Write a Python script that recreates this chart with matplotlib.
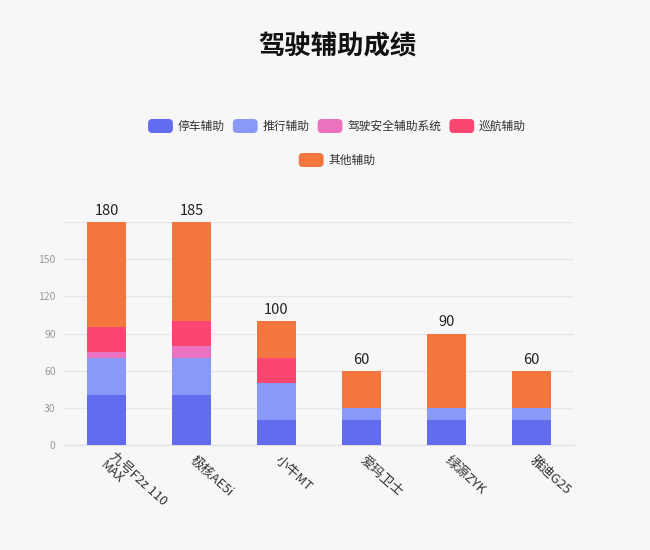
import matplotlib
matplotlib.use("Agg")
import matplotlib.pyplot as plt
from matplotlib.patches import Patch, FancyBboxPatch
from matplotlib.legend_handler import HandlerPatch
import numpy as np

plt.rcParams['font.family'] = ['Noto Sans CJK SC', 'DejaVu Sans']

categories = ['九号F2z 110\nMAX', '极核AE5i', '小牛MT', '爱玛卫士', '绿源ZYK', '雅迪G25']
series_names = ['停车辅助', '推行辅助', '驾驶安全辅助系统', '巡航辅助', '其他辅助']
parking = [40, 40, 20, 20, 20, 20]
pushing = [30, 30, 30, 10, 10, 10]
safety = [5, 10, 0, 0, 0, 0]
cruise = [20, 20, 20, 0, 0, 0]
other = [85, 85, 30, 30, 60, 30]
yticks = [0, 30, 60, 90, 120, 150, 180]
ymax = 180

colors = ['#636BF0', '#8A98F8', '#EA72BE', '#FA4670', '#F4763F']
bg = '#F7F7F7'


class RoundHandler(HandlerPatch):
    def create_artists(self, legend, orig_handle, xdescent, ydescent, width, height, fontsize, trans):
        h = height
        p = FancyBboxPatch((-xdescent, -ydescent + (height - h) / 2), width, h,
                           boxstyle='round,pad=0,rounding_size=%f' % (h * 0.3),
                           facecolor=orig_handle.get_facecolor(), edgecolor='none',
                           transform=trans)
        return [p]


fig = plt.figure(figsize=(6.5, 5.5), dpi=100, facecolor=bg)
ax = fig.add_axes([64/650, 1-445/550, 510/650, 223/550], facecolor=bg)

x = np.arange(len(categories))
series = [parking, pushing, safety, cruise, other]
bottom = np.zeros(len(categories))
for vals, c in zip(series, colors):
    v = np.array(vals, dtype=float)
    ax.bar(x, v, bottom=bottom, width=0.45, color=c, edgecolor='none', zorder=3)
    bottom += v

for xi, tot in zip(x, bottom):
    ax.annotate(f'{int(tot)}', (xi, min(tot, ymax)), xytext=(0, 3), textcoords='offset points',
                ha='center', va='bottom', fontsize=10.5, color='#222222', annotation_clip=False)

ax.set_xlim(-0.5, len(categories) - 0.5)
ax.set_ylim(0, ymax)
ax.set_yticks(yticks)
ax.set_yticklabels([str(t) if t < ymax else '' for t in yticks], fontsize=7.5, color='#9a9a9a')
ax.yaxis.grid(True, color='#E6E6EE', linewidth=1, zorder=0)
ax.set_axisbelow(True)
for s in ['top', 'right', 'left']:
    ax.spines[s].set_visible(False)
ax.spines['bottom'].set_color('#E0E0E8')
ax.tick_params(axis='y', length=0, pad=6)
ax.tick_params(axis='x', length=0, pad=10)
ax.set_xticks(x)
ax.set_xticklabels(categories, fontsize=9.5, color='#333333', rotation=-42,
                   ha='left', va='center', rotation_mode='anchor', multialignment='left',
                   linespacing=0.95)

fig.text(337/650, 1-47/550, '驾驶辅助成绩', ha='center', va='center', fontsize=19,
         fontweight='bold', color='#111111')

handles = [Patch(facecolor=c, edgecolor='none') for c in colors]
leg_kw = dict(frameon=False, fontsize=8.5, handlelength=2.1, handleheight=1.45,
              handletextpad=0.4, columnspacing=0.7, labelcolor='#333333',
              handler_map={Patch: RoundHandler()})
fig.legend(handles[:4], series_names[:4], loc='center', bbox_to_anchor=(337/650, 1-126/550),
           ncol=4, **leg_kw)
fig.legend(handles[4:], series_names[4:], loc='center', bbox_to_anchor=(337/650, 1-160/550),
           ncol=1, **leg_kw)

fig.savefig('out.png', dpi=100, facecolor=bg)
